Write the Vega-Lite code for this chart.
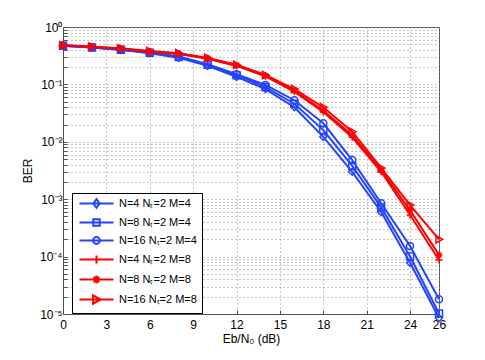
{
  "$schema": "https://vega.github.io/schema/vega-lite/v6.json",
  "width": 376,
  "height": 287,
  "autosize": "none",
  "padding": {"left": 63, "top": 27, "right": 46, "bottom": 46},
  "background": "white",
  "config": {
    "font": "Liberation Sans",
    "view": {"stroke": "#505050", "strokeWidth": 1},
    "axis": {
      "labelFont": "Liberation Sans",
      "titleFont": "Liberation Sans",
      "labelFontSize": 12,
      "titleFontSize": 12,
      "titleFontWeight": "normal",
      "labelColor": "black",
      "titleColor": "black",
      "domainColor": "#505050",
      "tickColor": "#505050",
      "tickSize": -4,
      "grid": true,
      "gridColor": "#8a8a8a",
      "gridDash": [1, 3],
      "gridOpacity": 1,
      "labelOverlap": false,
      "labelFlush": false,
      "labelBound": false
    }
  },
  "data": {
    "values": [
      {"series": "N=4 Nₜ=2 M=4", "snr": 0, "ber": 0.47},
      {"series": "N=4 Nₜ=2 M=4", "snr": 2, "ber": 0.44},
      {"series": "N=4 Nₜ=2 M=4", "snr": 4, "ber": 0.40},
      {"series": "N=4 Nₜ=2 M=4", "snr": 6, "ber": 0.35},
      {"series": "N=4 Nₜ=2 M=4", "snr": 8, "ber": 0.29},
      {"series": "N=4 Nₜ=2 M=4", "snr": 10, "ber": 0.21},
      {"series": "N=4 Nₜ=2 M=4", "snr": 12, "ber": 0.135},
      {"series": "N=4 Nₜ=2 M=4", "snr": 14, "ber": 0.083},
      {"series": "N=4 Nₜ=2 M=4", "snr": 16, "ber": 0.040},
      {"series": "N=4 Nₜ=2 M=4", "snr": 18, "ber": 0.0122},
      {"series": "N=4 Nₜ=2 M=4", "snr": 20, "ber": 0.0030},
      {"series": "N=4 Nₜ=2 M=4", "snr": 22, "ber": 0.00060},
      {"series": "N=4 Nₜ=2 M=4", "snr": 24, "ber": 0.000078},
      {"series": "N=4 Nₜ=2 M=4", "snr": 26, "ber": 0.0000085},
      {"series": "N=8 Nₜ=2 M=4", "snr": 0, "ber": 0.47},
      {"series": "N=8 Nₜ=2 M=4", "snr": 2, "ber": 0.44},
      {"series": "N=8 Nₜ=2 M=4", "snr": 4, "ber": 0.40},
      {"series": "N=8 Nₜ=2 M=4", "snr": 6, "ber": 0.355},
      {"series": "N=8 Nₜ=2 M=4", "snr": 8, "ber": 0.30},
      {"series": "N=8 Nₜ=2 M=4", "snr": 10, "ber": 0.22},
      {"series": "N=8 Nₜ=2 M=4", "snr": 12, "ber": 0.145},
      {"series": "N=8 Nₜ=2 M=4", "snr": 14, "ber": 0.090},
      {"series": "N=8 Nₜ=2 M=4", "snr": 16, "ber": 0.046},
      {"series": "N=8 Nₜ=2 M=4", "snr": 18, "ber": 0.016},
      {"series": "N=8 Nₜ=2 M=4", "snr": 20, "ber": 0.0038},
      {"series": "N=8 Nₜ=2 M=4", "snr": 22, "ber": 0.00072},
      {"series": "N=8 Nₜ=2 M=4", "snr": 24, "ber": 0.000100},
      {"series": "N=8 Nₜ=2 M=4", "snr": 26, "ber": 0.0000102},
      {"series": "N=16 Nₜ=2 M=4", "snr": 0, "ber": 0.47},
      {"series": "N=16 Nₜ=2 M=4", "snr": 2, "ber": 0.445},
      {"series": "N=16 Nₜ=2 M=4", "snr": 4, "ber": 0.405},
      {"series": "N=16 Nₜ=2 M=4", "snr": 6, "ber": 0.36},
      {"series": "N=16 Nₜ=2 M=4", "snr": 8, "ber": 0.305},
      {"series": "N=16 Nₜ=2 M=4", "snr": 10, "ber": 0.225},
      {"series": "N=16 Nₜ=2 M=4", "snr": 12, "ber": 0.15},
      {"series": "N=16 Nₜ=2 M=4", "snr": 14, "ber": 0.098},
      {"series": "N=16 Nₜ=2 M=4", "snr": 16, "ber": 0.053},
      {"series": "N=16 Nₜ=2 M=4", "snr": 18, "ber": 0.021},
      {"series": "N=16 Nₜ=2 M=4", "snr": 20, "ber": 0.0048},
      {"series": "N=16 Nₜ=2 M=4", "snr": 22, "ber": 0.00085},
      {"series": "N=16 Nₜ=2 M=4", "snr": 24, "ber": 0.000153},
      {"series": "N=16 Nₜ=2 M=4", "snr": 26, "ber": 0.000018},
      {"series": "N=4 Nₜ=2 M=8", "snr": 0, "ber": 0.48},
      {"series": "N=4 Nₜ=2 M=8", "snr": 2, "ber": 0.45},
      {"series": "N=4 Nₜ=2 M=8", "snr": 4, "ber": 0.42},
      {"series": "N=4 Nₜ=2 M=8", "snr": 6, "ber": 0.37},
      {"series": "N=4 Nₜ=2 M=8", "snr": 8, "ber": 0.34},
      {"series": "N=4 Nₜ=2 M=8", "snr": 10, "ber": 0.28},
      {"series": "N=4 Nₜ=2 M=8", "snr": 12, "ber": 0.21},
      {"series": "N=4 Nₜ=2 M=8", "snr": 14, "ber": 0.138},
      {"series": "N=4 Nₜ=2 M=8", "snr": 16, "ber": 0.075},
      {"series": "N=4 Nₜ=2 M=8", "snr": 18, "ber": 0.033},
      {"series": "N=4 Nₜ=2 M=8", "snr": 20, "ber": 0.012},
      {"series": "N=4 Nₜ=2 M=8", "snr": 22, "ber": 0.0030},
      {"series": "N=4 Nₜ=2 M=8", "snr": 24, "ber": 0.00053},
      {"series": "N=4 Nₜ=2 M=8", "snr": 26, "ber": 0.000087},
      {"series": "N=8 Nₜ=2 M=8", "snr": 0, "ber": 0.48},
      {"series": "N=8 Nₜ=2 M=8", "snr": 2, "ber": 0.455},
      {"series": "N=8 Nₜ=2 M=8", "snr": 4, "ber": 0.42},
      {"series": "N=8 Nₜ=2 M=8", "snr": 6, "ber": 0.375},
      {"series": "N=8 Nₜ=2 M=8", "snr": 8, "ber": 0.345},
      {"series": "N=8 Nₜ=2 M=8", "snr": 10, "ber": 0.285},
      {"series": "N=8 Nₜ=2 M=8", "snr": 12, "ber": 0.215},
      {"series": "N=8 Nₜ=2 M=8", "snr": 14, "ber": 0.142},
      {"series": "N=8 Nₜ=2 M=8", "snr": 16, "ber": 0.078},
      {"series": "N=8 Nₜ=2 M=8", "snr": 18, "ber": 0.035},
      {"series": "N=8 Nₜ=2 M=8", "snr": 20, "ber": 0.013},
      {"series": "N=8 Nₜ=2 M=8", "snr": 22, "ber": 0.0032},
      {"series": "N=8 Nₜ=2 M=8", "snr": 24, "ber": 0.00064},
      {"series": "N=8 Nₜ=2 M=8", "snr": 26, "ber": 0.000107},
      {"series": "N=16 Nₜ=2 M=8", "snr": 0, "ber": 0.48},
      {"series": "N=16 Nₜ=2 M=8", "snr": 2, "ber": 0.455},
      {"series": "N=16 Nₜ=2 M=8", "snr": 4, "ber": 0.425},
      {"series": "N=16 Nₜ=2 M=8", "snr": 6, "ber": 0.38},
      {"series": "N=16 Nₜ=2 M=8", "snr": 8, "ber": 0.35},
      {"series": "N=16 Nₜ=2 M=8", "snr": 10, "ber": 0.29},
      {"series": "N=16 Nₜ=2 M=8", "snr": 12, "ber": 0.22},
      {"series": "N=16 Nₜ=2 M=8", "snr": 14, "ber": 0.146},
      {"series": "N=16 Nₜ=2 M=8", "snr": 16, "ber": 0.083},
      {"series": "N=16 Nₜ=2 M=8", "snr": 18, "ber": 0.040},
      {"series": "N=16 Nₜ=2 M=8", "snr": 20, "ber": 0.015},
      {"series": "N=16 Nₜ=2 M=8", "snr": 22, "ber": 0.0035},
      {"series": "N=16 Nₜ=2 M=8", "snr": 24, "ber": 0.00079},
      {"series": "N=16 Nₜ=2 M=8", "snr": 26, "ber": 0.0002}
    ]
  },
  "encoding": {
    "x": {
      "field": "snr",
      "type": "quantitative",
      "scale": {"domain": [0, 26], "nice": false, "zero": false},
      "axis": {
        "title": "Eb/N₀ (dB)",
        "values": [0, 3, 6, 9, 12, 15, 18, 21, 24, 26],
        "labelPadding": 9,
        "titlePadding": 3
      }
    },
    "y": {
      "field": "ber",
      "type": "quantitative",
      "scale": {"type": "log", "domain": [0.00001, 1], "nice": false},
      "axis": {
        "title": "BER",
        "titlePadding": 5,
        "labelPadding": 5,
        "values": [0.00001, 0.00002, 0.00003, 0.00004, 0.00005, 0.00006, 0.00007, 0.00008, 0.00009,
                   0.0001, 0.0002, 0.0003, 0.0004, 0.0005, 0.0006, 0.0007, 0.0008, 0.0009,
                   0.001, 0.002, 0.003, 0.004, 0.005, 0.006, 0.007, 0.008, 0.009,
                   0.01, 0.02, 0.03, 0.04, 0.05, 0.06, 0.07, 0.08, 0.09,
                   0.1, 0.2, 0.3, 0.4, 0.5, 0.6, 0.7, 0.8, 0.9, 1],
        "labelExpr": "abs(log(datum.value)/LN10 - round(log(datum.value)/LN10)) < 0.001 ? '10' + (round(log(datum.value)/LN10) < 0 ? '⁻' : '') + ['⁰','¹','²','³','⁴','⁵'][abs(round(log(datum.value)/LN10))] : ''"
      }
    }
  },
  "layer": [
    {
      "mark": {"type": "line", "strokeWidth": 2},
      "encoding": {
        "color": {
          "field": "series", "type": "nominal", "legend": null,
          "scale": {
            "domain": ["N=4 Nₜ=2 M=4", "N=8 Nₜ=2 M=4", "N=16 Nₜ=2 M=4", "N=4 Nₜ=2 M=8", "N=8 Nₜ=2 M=8", "N=16 Nₜ=2 M=8"],
            "range": ["#2244ff", "#2244ff", "#2244ff", "#ff0000", "#ff0000", "#ff0000"]
          }
        },
        "detail": {"field": "series"}
      }
    },
    {
      "mark": {"type": "point", "filled": false, "strokeWidth": 1.5, "size": 49, "opacity": 1},
      "encoding": {
        "color": {
          "field": "series", "type": "nominal", "legend": null,
          "scale": {
            "domain": ["N=4 Nₜ=2 M=4", "N=8 Nₜ=2 M=4", "N=16 Nₜ=2 M=4", "N=4 Nₜ=2 M=8", "N=8 Nₜ=2 M=8", "N=16 Nₜ=2 M=8"],
            "range": ["#2244ff", "#2244ff", "#2244ff", "#ff0000", "#ff0000", "#ff0000"]
          }
        },
        "shape": {
          "field": "series", "type": "nominal", "legend": null,
          "scale": {
            "domain": ["N=4 Nₜ=2 M=4", "N=8 Nₜ=2 M=4", "N=16 Nₜ=2 M=4", "N=4 Nₜ=2 M=8", "N=8 Nₜ=2 M=8", "N=16 Nₜ=2 M=8"],
            "range": ["diamond", "square", "circle", "M-1,0H1M0,-1V1", "M-1,0H1M0,-1V1M-0.7,-0.7L0.7,0.7M-0.7,0.7L0.7,-0.7", "M-0.85,-1.05L1.05,0L-0.85,1.05Z"]
          }
        }
      }
    },
    {
      "mark": {"type": "point", "filled": false, "strokeWidth": 2, "size": 64, "opacity": 0},
      "encoding": {
        "color": {
          "field": "series", "type": "nominal",
          "scale": {
            "domain": ["N=4 Nₜ=2 M=4", "N=8 Nₜ=2 M=4", "N=16 Nₜ=2 M=4", "N=4 Nₜ=2 M=8", "N=8 Nₜ=2 M=8", "N=16 Nₜ=2 M=8"],
            "range": ["#2244ff", "#2244ff", "#2244ff", "#ff0000", "#ff0000", "#ff0000"]
          },
          "legend": {
            "title": null,
            "orient": "none",
            "legendX": 9,
            "legendY": 166,
            "padding": 5,
            "strokeColor": "black",
            "fillColor": "white",
            "labelFont": "Liberation Sans",
            "labelFontSize": 11,
            "labelColor": "black",
            "labelLimit": 200,
            "symbolSize": 64,
            "symbolStrokeWidth": 2,
            "symbolOffset": 14,
            "labelOffset": 17,
            "rowPadding": 3,
            "symbolOpacity": 1,
            "encode": {"symbols": {"update": {"opacity": {"value": 1}, "strokeOpacity": {"value": 1}}}}
          }
        },
        "shape": {
          "field": "series", "type": "nominal",
          "scale": {
            "domain": ["N=4 Nₜ=2 M=4", "N=8 Nₜ=2 M=4", "N=16 Nₜ=2 M=4", "N=4 Nₜ=2 M=8", "N=8 Nₜ=2 M=8", "N=16 Nₜ=2 M=8"],
            "range": [
              "M-4.25,0H4.25M0,-1.1L0.8,0L0,1.1L-0.8,0Z",
              "M-4.25,0H4.25M-0.8,-0.8H0.8V0.8H-0.8Z",
              "M-4.25,0H4.25M0.85,0A0.85,0.85,0,1,1,-0.85,0A0.85,0.85,0,1,1,0.85,0Z",
              "M-4.25,0H4.25M0,-1V1",
              "M-4.25,0H4.25M0,-1V1M-0.7,-0.7L0.7,0.7M-0.7,0.7L0.7,-0.7",
              "M-4.25,0H4.25M-0.85,-1.05L1.05,0L-0.85,1.05Z"
            ]
          },
          "legend": {"title": null}
        }
      }
    }
  ],
  "resolve": {"scale": {"shape": "independent", "color": "independent"}}
}
